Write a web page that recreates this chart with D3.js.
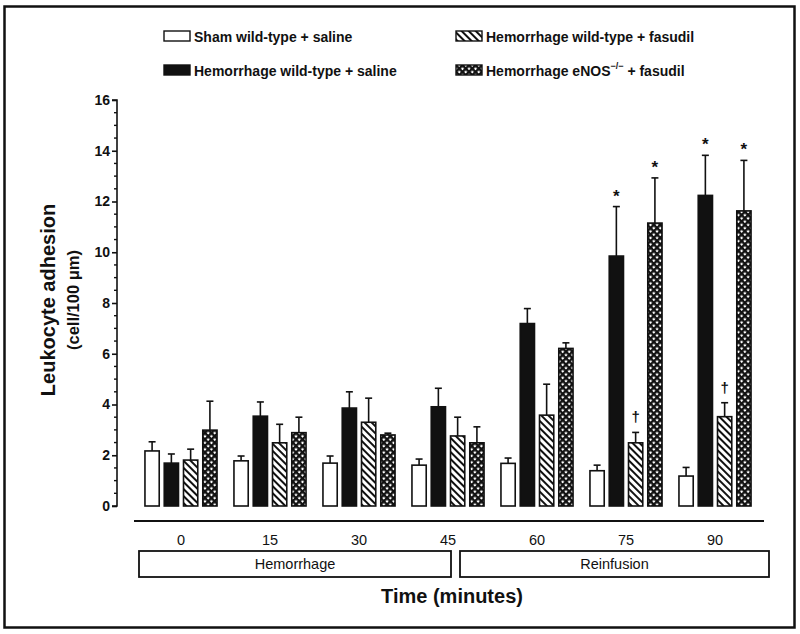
<!DOCTYPE html>
<html>
<head>
<meta charset="utf-8">
<script src="https://cdn.jsdelivr.net/npm/d3@7"></script>
<style>
  html, body { margin: 0; padding: 0; background: #fff; }
  svg { display: block; font-family: "Liberation Sans", Arial, sans-serif; }
</style>
</head>
<body>
<div id="chart"></div>
<script>
// time points (minutes) and the four treatment groups
const times = ['0', '15', '30', '45', '60', '75', '90'];
const seriesNames = [
    'Sham wild-type + saline',
    'Hemorrhage wild-type + saline',
    'Hemorrhage wild-type + fasudil',
    'Hemorrhage eNOS + fasudil'
];

// mean leukocyte adhesion, one array per series
const shamSaline   = [2.17, 1.78, 1.69, 1.61, 1.68, 1.39, 1.18];
const hemSaline    = [1.69, 3.54, 3.86, 3.91, 7.19, 9.85, 12.24];
const hemFasudil   = [1.81, 2.49, 3.30, 2.76, 3.58, 2.49, 3.52];
const enosFasudil  = [2.99, 2.89, 2.80, 2.49, 6.21, 11.15, 11.63];

// top of the error bar (mean + SEM)
const shamSalineErr  = [2.53, 1.97, 1.97, 1.85, 1.89, 1.61, 1.52];
const hemSalineErr   = [2.05, 4.10, 4.50, 4.64, 7.78, 11.80, 13.82];
const hemFasudilErr  = [2.24, 3.22, 4.25, 3.50, 4.80, 2.90, 4.07];
const enosFasudilErr = [4.13, 3.50, 2.87, 3.12, 6.43, 12.93, 13.62];

// significance marks: series index, time, symbol
const sigMarks = [
    { series: 1, time: '75', mark: '*' },
    { series: 3, time: '75', mark: '*' },
    { series: 1, time: '90', mark: '*' },
    { series: 3, time: '90', mark: '*' },
    { series: 2, time: '75', mark: '\u2020' },
    { series: 2, time: '90', mark: '\u2020' }
];

const phases = ['Hemorrhage', 'Reinfusion'];

const yTicks = [0, 2, 4, 6, 8, 10, 12, 14, 16];

const means = [shamSaline, hemSaline, hemFasudil, enosFasudil];
const errs = [shamSalineErr, hemSalineErr, hemFasudilErr, enosFasudilErr];

const width = 800, height = 634;
const fills = ['#fff', '#111', 'url(#hatch)', 'url(#cross)'];

const svg = d3.select('#chart').append('svg')
    .attr('width', width)
    .attr('height', height);

// patterns for the hatched bars
const defs = svg.append('defs');
const hatch = defs.append('pattern')
    .attr('id', 'hatch')
    .attr('patternUnits', 'userSpaceOnUse')
    .attr('width', 5).attr('height', 5)
    .attr('patternTransform', 'rotate(45)');
hatch.append('rect').attr('width', 5).attr('height', 5).attr('fill', '#fff');
hatch.append('rect').attr('width', 5).attr('height', 2).attr('fill', '#111');

const cross = defs.append('pattern')
    .attr('id', 'cross')
    .attr('patternUnits', 'userSpaceOnUse')
    .attr('width', 4.6).attr('height', 4.6)
    .attr('patternTransform', 'rotate(45)');
cross.append('rect').attr('width', 4.6).attr('height', 4.6).attr('fill', '#111');
cross.append('rect').attr('x', 1.5).attr('y', 1.5).attr('width', 2.2).attr('height', 2.2).attr('fill', '#fff');

// outer frame
svg.append('rect')
    .attr('x', 4.5).attr('y', 6.5)
    .attr('width', 790).attr('height', 621)
    .attr('fill', 'none')
    .attr('stroke', '#111')
    .attr('stroke-width', 2.5);

// scales
const y = d3.scaleLinear().domain([0, 16]).range([506, 100]);
const x0 = d3.scaleBand().domain(times).range([136.5, 759.5])
    .paddingInner(0.19).paddingOuter(0.095);
const x1 = d3.scaleBand().domain(d3.range(4)).range([0, x0.bandwidth()])
    .paddingInner(0.26).paddingOuter(0);
const xMid = t => x0(t) + x0.bandwidth() / 2;

// y axis
const yAxisX = 117;
const yAxis = d3.axisLeft(y).tickValues(yTicks).tickSize(5).tickPadding(2);
const gy = svg.append('g')
    .attr('transform', `translate(${yAxisX},0)`)
    .call(yAxis);
gy.select('.domain').attr('stroke', '#111').attr('stroke-width', 1.6)
    .attr('d', `M-5,${y(16)}H0V${y(0)}H-5`);
gy.selectAll('.tick line').attr('stroke', '#111').attr('stroke-width', 1.6);
gy.selectAll('.tick text')
    .attr('fill', '#111')
    .attr('font-size', 14)
    .attr('font-weight', 'bold')
    .attr('font-family', '"Liberation Sans", Arial, sans-serif');

// minor ticks
const minor = d3.range(0, 16.01, 0.5).filter(v => v % 2 !== 0);
svg.append('g').selectAll('line')
    .data(minor).enter().append('line')
    .attr('x1', yAxisX - 3).attr('x2', yAxisX)
    .attr('y1', d => y(d)).attr('y2', d => y(d))
    .attr('stroke', '#111').attr('stroke-width', 1.4);

// y title
const yTitle = svg.append('text')
    .attr('transform', 'translate(55,300) rotate(-90)')
    .attr('text-anchor', 'middle')
    .attr('font-weight', 'bold')
    .attr('fill', '#111');
yTitle.append('tspan').attr('x', 0).attr('dy', 0).attr('font-size', 20).text('Leukocyte adhesion');
yTitle.append('tspan').attr('x', 0).attr('dy', 24).attr('font-size', 16.5).text('(cell/100 \u03bcm)');

// bars
const rows = [];
times.forEach((t, i) => {
    means.forEach((arr, s) => {
        rows.push({ time: t, series: s, value: arr[i], err: errs[s][i] });
    });
});

const barG = svg.append('g');
// error bars first so the bar outline sits on top
barG.selectAll('.err')
    .data(rows).enter().append('g')
    .attr('class', 'err')
    .each(function (d) {
        const cx = x0(d.time) + x1(d.series) + x1.bandwidth() / 2;
        const g = d3.select(this);
        g.append('line')
            .attr('x1', cx).attr('x2', cx)
            .attr('y1', y(d.value)).attr('y2', y(d.err))
            .attr('stroke', '#111').attr('stroke-width', 1.6);
        g.append('line')
            .attr('x1', cx - 3.5).attr('x2', cx + 3.5)
            .attr('y1', y(d.err)).attr('y2', y(d.err))
            .attr('stroke', '#111').attr('stroke-width', 1.6);
    });

barG.selectAll('.bar')
    .data(rows).enter().append('rect')
    .attr('class', 'bar')
    .attr('x', d => x0(d.time) + x1(d.series))
    .attr('y', d => y(d.value))
    .attr('width', x1.bandwidth())
    .attr('height', d => y(0) - y(d.value))
    .attr('fill', d => fills[d.series])
    .attr('stroke', '#111')
    .attr('stroke-width', 1.6);

// significance marks
svg.append('g').selectAll('text')
    .data(sigMarks).enter().append('text')
    .attr('x', d => x0(d.time) + x1(d.series) + x1.bandwidth() / 2)
    .attr('y', d => {
        const i = times.indexOf(d.time);
        return y(errs[d.series][i]) - (d.mark === '*' ? 5 : 10);
    })
    .attr('text-anchor', 'middle')
    .attr('font-size', d => d.mark === '*' ? 17 : 15)
    .attr('font-weight', 'bold')
    .attr('fill', '#111')
    .text(d => d.mark);

// x labels and separator line
svg.append('line')
    .attr('x1', 134).attr('x2', 764)
    .attr('y1', 521).attr('y2', 521)
    .attr('stroke', '#111').attr('stroke-width', 2);

svg.append('g').selectAll('text')
    .data(times).enter().append('text')
    .attr('x', d => xMid(d))
    .attr('y', 545)
    .attr('text-anchor', 'middle')
    .attr('font-size', 14.5)
    .attr('fill', '#111')
    .text(d => d);

// phase boxes: first spans 0-45, second 60-90
const split = xMid('45') + 7;
const boxEdges = [
    [xMid('0') - 42, split - 4],
    [split + 5, xMid('90') + 54]
];
const phaseG = svg.append('g').selectAll('g')
    .data(phases).enter().append('g');
phaseG.append('rect')
    .attr('x', (d, i) => boxEdges[i][0])
    .attr('y', 551)
    .attr('width', (d, i) => boxEdges[i][1] - boxEdges[i][0])
    .attr('height', 26)
    .attr('fill', '#fff')
    .attr('stroke', '#111')
    .attr('stroke-width', 1.8);
phaseG.append('text')
    .attr('x', (d, i) => (boxEdges[i][0] + boxEdges[i][1]) / 2)
    .attr('y', 568.5)
    .attr('text-anchor', 'middle')
    .attr('font-size', 14.5)
    .attr('fill', '#111')
    .text(d => d);

svg.append('text')
    .attr('x', 452).attr('y', 603)
    .attr('text-anchor', 'middle')
    .attr('font-size', 20)
    .attr('font-weight', 'bold')
    .attr('fill', '#111')
    .text('Time (minutes)');

// legend
const legendPos = [[164, 31], [164, 65], [456, 31], [456, 65]];
const legend = svg.append('g').selectAll('g')
    .data(seriesNames).enter().append('g')
    .attr('transform', (d, i) => `translate(${legendPos[i][0]},${legendPos[i][1]})`);
legend.append('rect')
    .attr('width', 26).attr('height', 10)
    .attr('fill', (d, i) => fills[i])
    .attr('stroke', '#111')
    .attr('stroke-width', 1.4);
const legText = legend.append('text')
    .attr('x', 30).attr('y', 10.5)
    .attr('font-size', 14)
    .attr('font-weight', 'bold')
    .attr('fill', '#111');
legText.each(function (d, i) {
    const t = d3.select(this);
    if (i === 3) {
        t.append('tspan').text('Hemorrhage eNOS');
        t.append('tspan').attr('dy', -7).attr('font-size', 9).text('\u2212/\u2212');
        t.append('tspan').attr('dy', 7).text(' + fasudil');
    } else {
        t.text(d);
    }
});
</script>
</body>
</html>
